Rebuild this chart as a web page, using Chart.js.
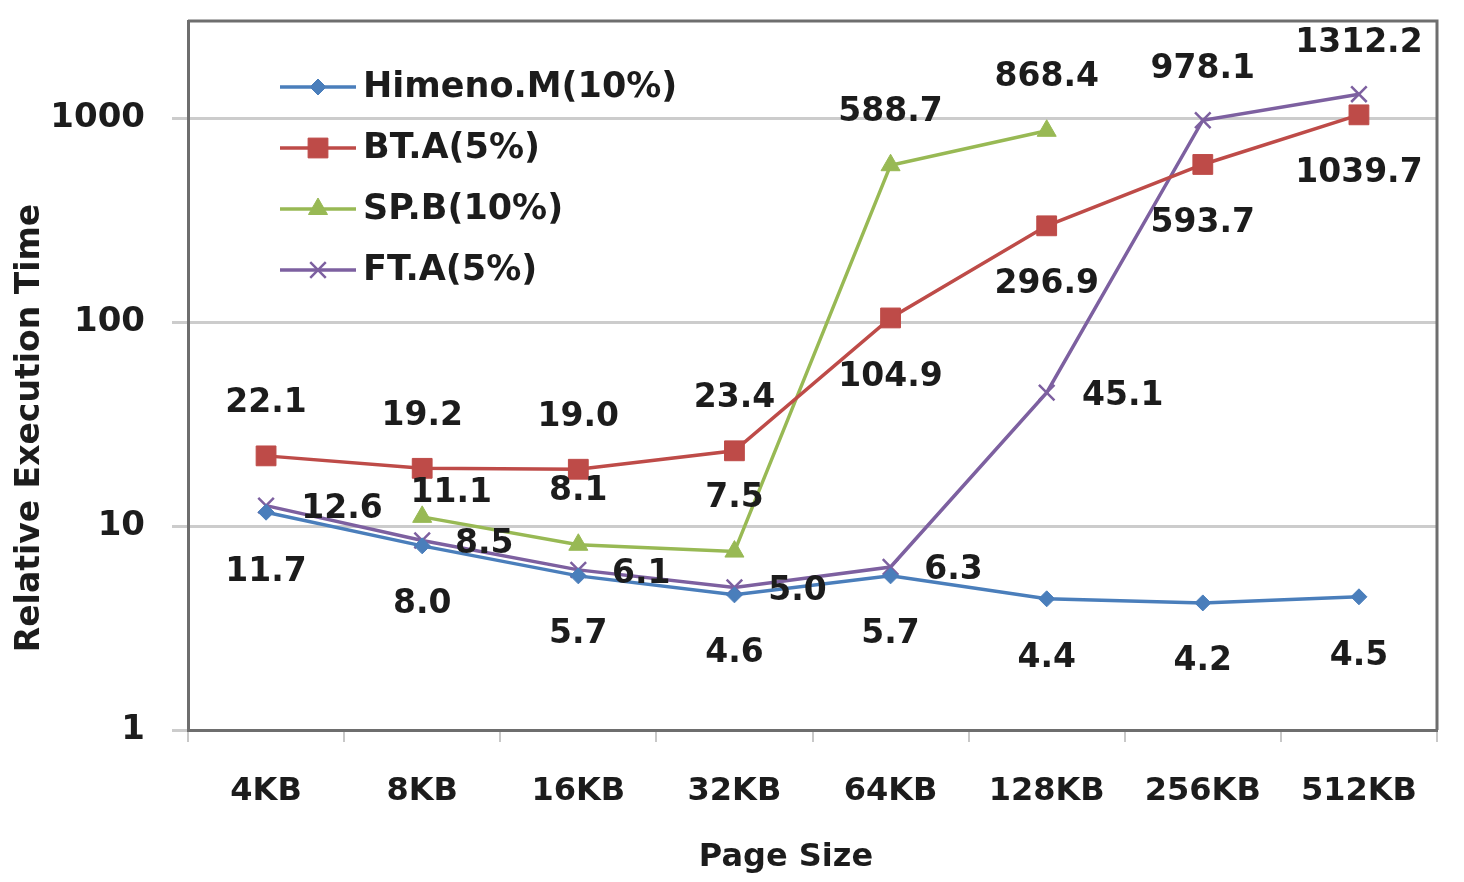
<!DOCTYPE html>
<html>
<head>
<meta charset="utf-8">
<script src="https://cdn.jsdelivr.net/npm/chart.js@4/dist/chart.umd.min.js"></script>
<style>
html,body{margin:0;padding:0;background:#fff;}
#wrap{width:1464px;height:882px;}
</style>
</head>
<body>
<div id="wrap"><canvas id="c" width="1464" height="882"></canvas></div>
<script>
// ---- data ----
const categories = ['4KB','8KB','16KB','32KB','64KB','128KB','256KB','512KB'];
const himeno = [11.7, 8.0, 5.7, 4.6, 5.7, 4.4, 4.2, 4.5];
const btA    = [22.1, 19.2, 19.0, 23.4, 104.9, 296.9, 593.7, 1039.7];
const spB    = [null, 11.1, 8.1, 7.5, 588.7, 868.4, null, null];
const ftA    = [12.6, 8.5, 6.1, 5.0, 6.3, 45.1, 978.1, 1312.2];
const seriesNames = ['Himeno.M(10%)', 'BT.A(5%)', 'SP.B(10%)', 'FT.A(5%)'];
const yTickValues = [1, 10, 100, 1000];
const xTitle = 'Page Size';
const yTitle = 'Relative Execution Time';

// ---- label placement (pixel offsets from each point) ----
const labelOffsets = [
  [[0,60],[0,59],[0,59],[0,59],[0,59],[0,60],[0,59],[0,60]],
  [[0,-52],[0,-52],[0,-52],[0,-52],[0,59],[0,59],[0,59],[0,59]],
  [null,[29,-23],[0,-53],[0,-53],[0,-53],[0,-53],null,null],
  [[76,4],[62,4],[63,5],[63,4],[63,3],[76,4],[0,-51],[0,-51]]
];

const FONT = "'DejaVu Sans', sans-serif";
const colors = ['#4a7ebb', '#be4b48', '#98b954', '#7d60a0'];
const pStyles = ['rectRot', 'rect', 'triangle', 'crossRot'];
const pRadius = [8, 14, 11, 11];

function ds(i, data) {
  return {
    label: seriesNames[i], data: data,
    borderColor: colors[i], backgroundColor: colors[i],
    borderWidth: 3.5, pointStyle: pStyles[i], pointRadius: pRadius[i],
    pointHoverRadius: pRadius[i],
    pointBorderWidth: pStyles[i] === 'crossRot' ? 2.5 : 1,
    pointBorderColor: colors[i], pointBackgroundColor: colors[i],
    spanGaps: false, tension: 0, fill: false
  };
}

const frame = {
  id: 'frame',
  afterDraw(chart) {
    const {ctx, chartArea: a} = chart;
    ctx.save();
    ctx.strokeStyle = '#6e6e6e';
    ctx.lineWidth = 3;
    ctx.beginPath();
    ctx.moveTo(a.left, a.top); ctx.lineTo(a.right, a.top); ctx.lineTo(a.right, a.bottom);
    ctx.stroke();
    ctx.restore();
  }
};

const axisTitles = {
  id: 'axisTitles',
  afterDraw(chart) {
    const ctx = chart.ctx;
    ctx.save();
    ctx.fillStyle = '#1c1c1c';
    ctx.font = "bold 32px " + FONT;
    ctx.textAlign = 'center'; ctx.textBaseline = 'middle';
    ctx.fillText(xTitle, 786, 858);
    ctx.translate(30, 428);
    ctx.rotate(-Math.PI / 2);
    ctx.font = "bold 33px " + FONT;
    ctx.fillText(yTitle, 0, 0);
    ctx.restore();
  }
};

const valueLabels = {
  id: 'valueLabels',
  afterDatasetsDraw(chart) {
    const ctx = chart.ctx;
    ctx.save();
    ctx.font = "bold 33px " + FONT;
    ctx.fillStyle = '#1c1c1c';
    ctx.textAlign = 'center';
    ctx.textBaseline = 'middle';
    chart.data.datasets.forEach((d, i) => {
      const meta = chart.getDatasetMeta(i);
      meta.data.forEach((el, j) => {
        const v = d.data[j];
        const off = labelOffsets[i][j];
        if (v == null || !off) return;
        ctx.fillText(v.toFixed(1), el.x + off[0], el.y + off[1]);
      });
    });
    ctx.restore();
  }
};

const customLegend = {
  id: 'customLegend',
  afterDraw(chart) {
    const ctx = chart.ctx;
    ctx.save();
    const x0 = 280, x1 = 356, xm = 318, tx = 363;
    const rows = [87, 148, 209, 270];
    chart.data.datasets.forEach((d, i) => {
      const y = rows[i];
      ctx.strokeStyle = d.borderColor; ctx.lineWidth = 3.5;
      ctx.beginPath(); ctx.moveTo(x0, y); ctx.lineTo(x1, y); ctx.stroke();
      ctx.fillStyle = d.backgroundColor;
      ctx.strokeStyle = d.borderColor;
      ctx.lineWidth = d.pointBorderWidth;
      if (Chart.helpers && Chart.helpers.drawPoint) {
        Chart.helpers.drawPoint(ctx, {pointStyle: d.pointStyle, radius: d.pointRadius, rotation: 0, borderWidth: d.pointBorderWidth}, xm, y);
      }
      ctx.fillStyle = '#1c1c1c';
      ctx.font = "bold 35px " + FONT;
      ctx.textAlign = 'left'; ctx.textBaseline = 'middle';
      ctx.fillText(d.label, tx, y + 1);
    });
    ctx.restore();
  }
};

new Chart(document.getElementById('c'), {
  type: 'line',
  data: {
    labels: categories,
    datasets: [ds(0, himeno), ds(1, btA), ds(2, spB), ds(3, ftA)]
  },
  options: {
    responsive: false, animation: false, devicePixelRatio: 1,
    layout: {padding: {left: 0, top: 21, right: 27, bottom: 0}},
    plugins: {legend: {display: false}, tooltip: {enabled: false}},
    scales: {
      x: {
        type: 'category', offset: true,
        grid: {offset: true, drawOnChartArea: false, drawTicks: true, tickLength: 12, color: '#c8c8c8', lineWidth: 2},
        border: {display: true, color: '#6e6e6e', width: 3},
        ticks: {font: {family: FONT, size: 32, weight: 'bold'}, color: '#1c1c1c', padding: 30, maxRotation: 0, autoSkip: false},
        title: {display: false},
        afterFit(s) { s.height = 152; s.paddingLeft = 0; s.paddingRight = 0; }
      },
      y: {
        type: 'logarithmic', min: 1, max: 3000,
        afterBuildTicks(s) { s.ticks = yTickValues.map(v => ({value: v})); },
        grid: {color: '#cccccc', lineWidth: 3, tickLength: 16, drawTicks: true},
        border: {display: true, color: '#6e6e6e', width: 3},
        ticks: {font: {family: FONT, size: 34, weight: 'bold'}, color: '#1c1c1c', padding: 27,
                callback: (v) => String(v)},
        title: {display: false},
        afterFit(s) { s.width = 188; s.paddingTop = 0; s.paddingBottom = 0; }
      }
    }
  },
  plugins: [frame, axisTitles, valueLabels, customLegend]
});
</script>
</body>
</html>
